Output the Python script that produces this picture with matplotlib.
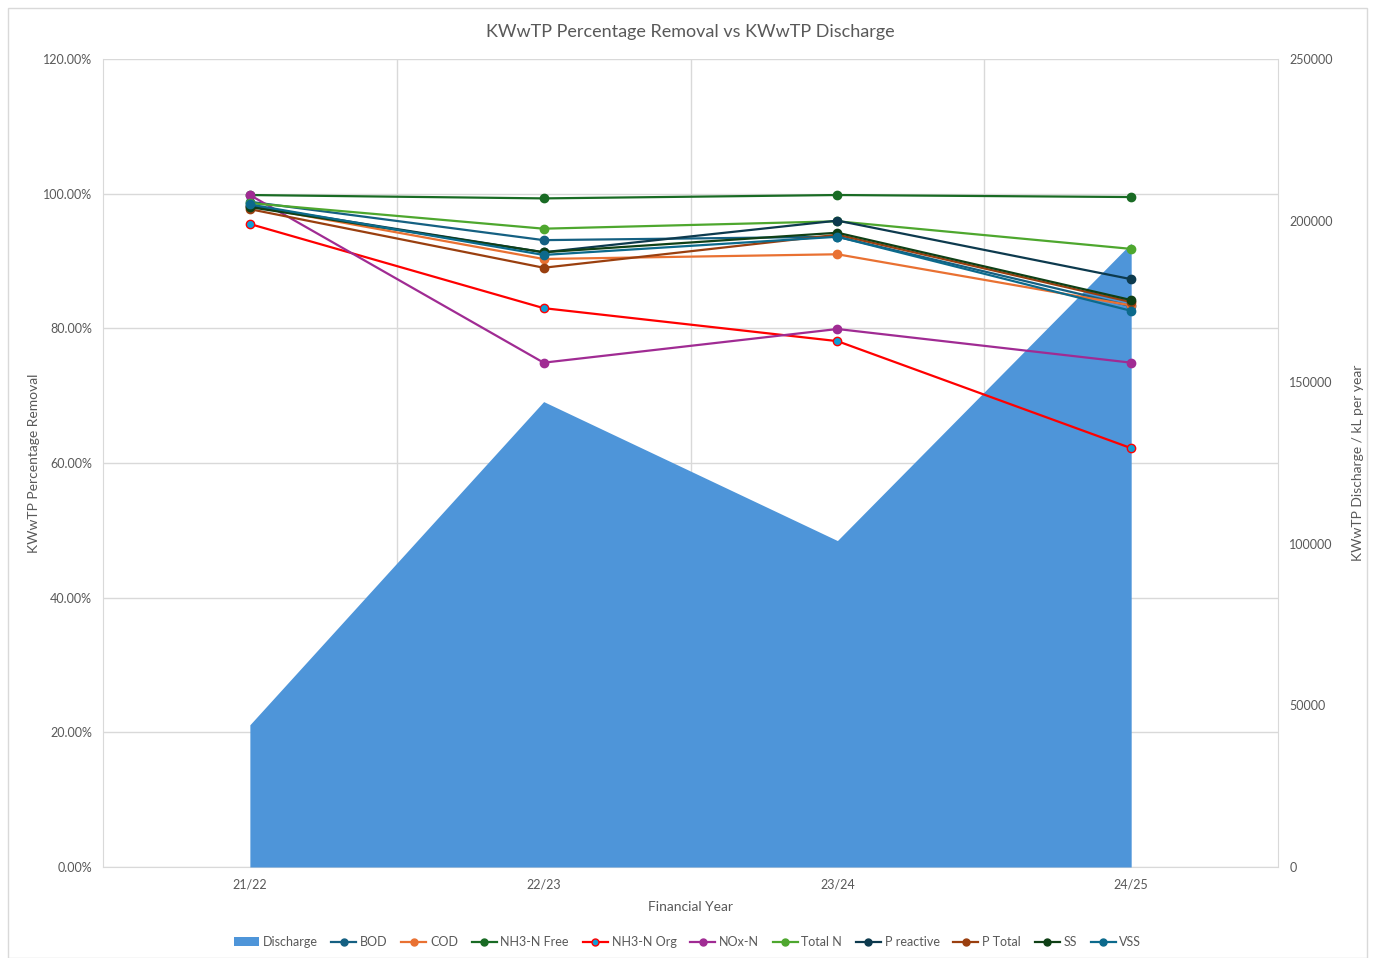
import numpy as np
import matplotlib
matplotlib.use('Agg')
import matplotlib.pyplot as plt
from matplotlib.patches import Patch, Rectangle
from matplotlib.lines import Line2D
from matplotlib.ticker import FuncFormatter

plt.rcParams['font.family'] = ['Lato', 'DejaVu Sans']

# Data
years = ['21/22', '22/23', '23/24', '24/25']
discharge = [44000, 144000, 101000, 193000]

bod = [98.8, 93.1, 93.6, 83.3]
cod = [98.2, 90.3, 91.0, 83.4]
nh3_free = [99.8, 99.3, 99.8, 99.5]
nh3_org = [95.5, 83.0, 78.1, 62.2]
nox_n = [99.8, 74.9, 79.9, 74.9]
total_n = [98.6, 94.8, 95.9, 91.8]
p_reactive = [98.2, 91.3, 96.0, 87.3]
p_total = [97.7, 89.0, 93.9, 83.9]
ss = [98.0, 91.3, 94.2, 84.2]
vss = [98.4, 90.9, 93.6, 82.6]

series = [
    ('BOD', bod, '#156082', '#156082'),
    ('COD', cod, '#E97132', '#E97132'),
    ('NH3-N Free', nh3_free, '#196B24', '#196B24'),
    ('NH3-N Org', nh3_org, '#FF0000', '#0F9ED5'),
    ('NOx-N', nox_n, '#A02B93', '#A02B93'),
    ('Total N', total_n, '#4EA72E', '#4EA72E'),
    ('P reactive', p_reactive, '#0D3A4E', '#0D3A4E'),
    ('P Total', p_total, '#9A3F0F', '#9A3F0F'),
    ('SS', ss, '#0F4016', '#0F4016'),
    ('VSS', vss, '#0C6A8C', '#0C6A8C'),
]

text_col = '#595959'
grid_col = '#D9D9D9'
x = np.arange(len(years)) + 0.5

fig = plt.figure(figsize=(13.75, 9.58), dpi=100)
ax = fig.add_axes([0.0749, 0.095, 0.8546, 0.8434])

# base axis: left scale + gridlines
ax.set_xlim(0, 4)
ax.set_ylim(0, 1.2)
ax.set_yticks(np.arange(0, 1.21, 0.2))
ax.yaxis.set_major_formatter(FuncFormatter(lambda v, p: f'{v*100:.2f}%'))
ax.set_xticks(x)
ax.set_xticklabels(years)
ax.grid(axis='y', color=grid_col, linewidth=1)
for b in [1, 2, 3]:
    ax.axvline(b, color=grid_col, linewidth=1, zorder=0)
ax.set_axisbelow(True)
for s in ['top', 'right']:
    ax.spines[s].set_visible(False)
ax.spines['left'].set_color(grid_col)
ax.spines['bottom'].set_color(grid_col)
ax.tick_params(length=0, colors=text_col, labelsize=9, pad=8)
ax.set_ylabel('KWwTP Percentage Removal', color=text_col, fontsize=10, labelpad=2)
ax.set_xlabel('Financial Year', color=text_col, fontsize=10, labelpad=8)

# discharge area on right axis
ax2 = ax.twinx()
ax2.fill_between(x, discharge, color='#4E95D9', linewidth=0, zorder=1)
ax2.set_ylim(0, 250000)
ax2.set_yticks(np.arange(0, 250001, 50000))
ax2.tick_params(length=0, colors=text_col, labelsize=9, pad=8)
for s in ['top', 'left', 'bottom']:
    ax2.spines[s].set_visible(False)
ax2.spines['right'].set_color(grid_col)
ax2.set_ylabel('KWwTP Discharge / kL per year', color=text_col, fontsize=10, labelpad=14)
ax2.patch.set_visible(False)

# removal lines on top
ax3 = ax.twinx()
ax3.set_ylim(0, 120)
ax3.axis('off')
for name, vals, lc, mc in series:
    ax3.plot(x, vals, color=lc, linewidth=1.6, marker='o', markersize=6,
             markerfacecolor=mc, markeredgecolor=lc, markeredgewidth=1, zorder=3)

ax.set_title('KWwTP Percentage Removal vs KWwTP Discharge', color=text_col,
             fontsize=13, pad=16)

handles = [Patch(facecolor='#4E95D9', label='Discharge')]
for name, vals, lc, mc in series:
    handles.append(Line2D([0], [0], color=lc, linewidth=1.6, marker='o', markersize=5,
                          markerfacecolor=mc, markeredgecolor=lc, label=name))
fig.legend(handles=handles, loc='center', bbox_to_anchor=(0.5, 0.0167), ncol=11,
           frameon=False, fontsize=9, labelcolor=text_col, handlelength=2.0,
           handletextpad=0.3, columnspacing=1.1)

fig.add_artist(Rectangle((0.006, 0.0), 0.988, 0.992, transform=fig.transFigure,
                         fill=False, edgecolor=grid_col, linewidth=1))

fig.savefig('out.png', dpi=100)
